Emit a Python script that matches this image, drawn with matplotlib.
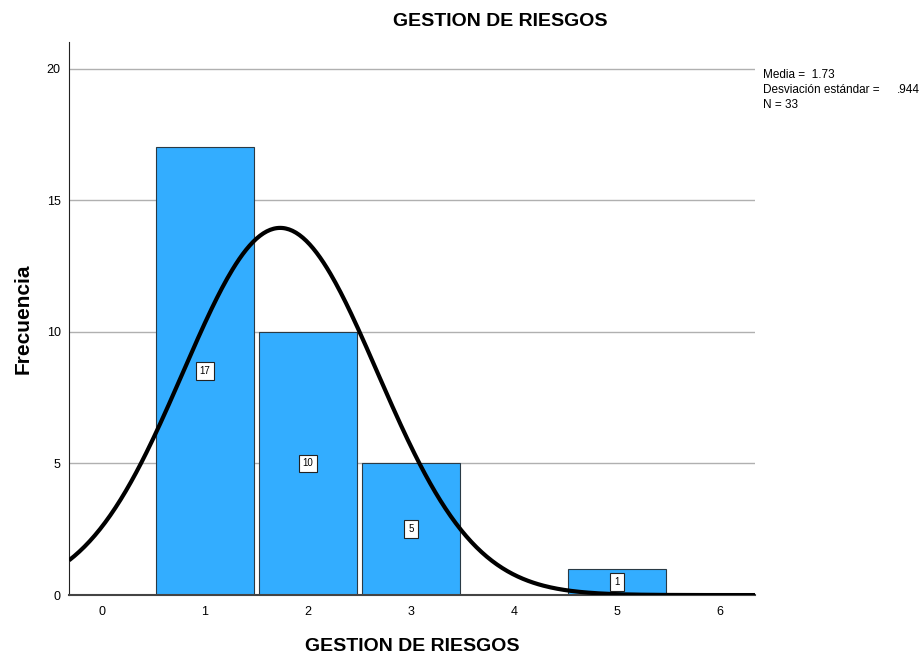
import numpy as np
import matplotlib
matplotlib.use("Agg")
import matplotlib.pyplot as plt

categories = [1, 2, 3, 5]
frequencies = [17, 10, 5, 1]
mean_val = 1.73
std_val = 0.944
n_val = 33
x_ticks = [0, 1, 2, 3, 4, 5, 6]
y_ticks = [0, 5, 10, 15, 20]

plt.rcParams['font.family'] = ['Liberation Sans', 'DejaVu Sans']

fig = plt.figure(figsize=(9.23, 6.59), dpi=100)
ax = fig.add_axes([0.0748, 0.097, 0.818 - 0.0748, 0.936 - 0.097])

ax.set_xlim(-0.32, 6.34)
ax.set_ylim(0, 21)

for y in y_ticks[1:]:
    ax.axhline(y, color='#b0b0b0', lw=1.0, zorder=0)

ax.bar(categories, frequencies, width=0.95, color='#33adff', edgecolor='#2a3a45', linewidth=0.8, zorder=2)

for c, f in zip(categories, frequencies):
    ax.text(c, f / 2, str(f), ha='center', va='center', fontsize=7, zorder=4,
            bbox=dict(boxstyle='square,pad=0.4', fc='white', ec='#222222', lw=0.8))

xs = np.linspace(-0.32, 6.34, 400)
ys = n_val * 1.0 / (std_val * np.sqrt(2 * np.pi)) * np.exp(-0.5 * ((xs - mean_val) / std_val) ** 2)
ax.plot(xs, ys, color='black', lw=3, zorder=3, solid_capstyle='butt')

ax.set_xticks(x_ticks)
ax.set_yticks(y_ticks)
ax.tick_params(length=0, labelsize=9, pad=8)
ax.tick_params(axis='y', pad=6)
for s in ['top', 'right']:
    ax.spines[s].set_visible(False)
ax.spines['left'].set_color('#222222')
ax.spines['bottom'].set_color('#444444')
ax.spines['bottom'].set_linewidth(1.5)

fig.text(500 / 923, 1 - 21 / 659, 'GESTION DE RIESGOS', fontsize=14, fontweight='bold',
         ha='center', va='center')
ax.set_xlabel('GESTION DE RIESGOS', fontsize=14, fontweight='bold', labelpad=14)
ax.set_ylabel('Frecuencia', fontsize=15, fontweight='bold', labelpad=10)

fig.text(763 / 923, 1 - 75 / 659, 'Media =  1.73', fontsize=8.5, va='center')
fig.text(763 / 923, 1 - 90 / 659, 'Desviación estándar =', fontsize=8.5, va='center')
fig.text(897 / 923, 1 - 90 / 659, '.944', fontsize=8.5, va='center')
fig.text(763 / 923, 1 - 105 / 659, 'N = 33', fontsize=8.5, va='center')

fig.savefig('out.png', dpi=100)
